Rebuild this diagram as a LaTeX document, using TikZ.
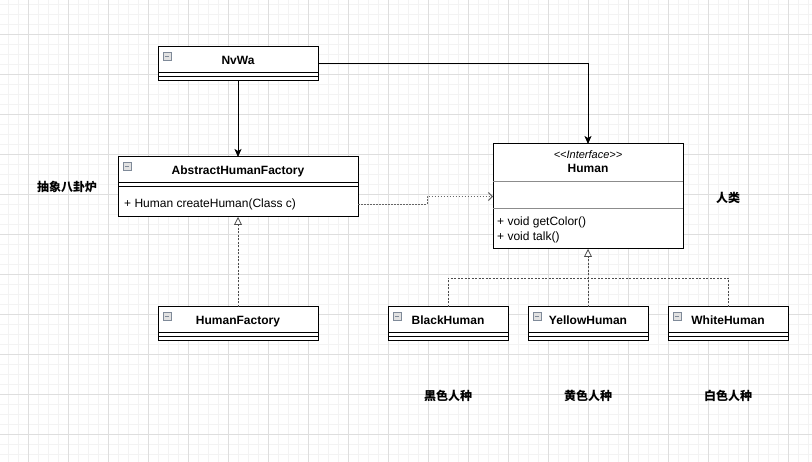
\documentclass[tikz,border=0pt]{standalone}
\usepackage{fontspec}
\setmainfont{Liberation Sans}
\newfontfamily\cjk{Noto Sans CJK SC}
\usepackage{xcolor}
\usepackage{tikz}
\usetikzlibrary{arrows.meta,calc}

\definecolor{gridmajor}{HTML}{DEDEDE}
\definecolor{gridminor}{HTML}{F3F3F3}
\definecolor{iconfill}{HTML}{E2E2E2}
\definecolor{iconline}{HTML}{7F8A99}

\tikzset{
  classbox/.style={draw=black, line width=1pt, fill=white, inner sep=0pt, outer sep=0pt, anchor=north west},
  classname/.style={font=\fontsize{12}{14}\selectfont\bfseries, inner sep=0pt, anchor=base},
  member/.style={font=\fontsize{12}{14}\selectfont, anchor=west, inner sep=0pt},
  note/.style={font=\fontsize{12}{14}\selectfont\cjk\bfseries, inner sep=0pt},
  compartment/.style={line width=1pt},
  foldicon/.style={draw=iconline, fill=iconfill, line width=0.6pt},
  assoc/.style={line width=1pt, -{Stealth[length=8pt,width=7pt,inset=2pt]}},
  realize/.style={line width=0.8pt, draw=black!70, dash pattern=on 2pt off 1.5pt},
  depend/.style={line width=0.9pt, draw=black!60, dash pattern=on 1.5pt off 1.5pt,
    -{Straight Barb[length=4pt,width=8pt,line width=1pt]}}
}

% class box: name, left, top, width, height, title
\newcommand{\umlclass}[6]{%
  \node[classbox, minimum width=#4pt, minimum height=#5pt] (#1) at (#2,#3) {};
  \node[classname] (#1-name) at ($(#1.north)+(0,18)$) {#6};
  \draw[compartment] ($(#1.north west)+(0,26)$) -- ($(#1.north east)+(0,26)$);
  \draw[compartment] ($(#1.north west)+(0,30)$) -- ($(#1.north east)+(0,30)$);
  \draw[foldicon] ($(#1.north west)+(5,5)$) rectangle ++(8,8);
  \draw[iconline, line width=0.8pt] ($(#1.north west)+(6.8,9)$) -- ++(4.4,0);
}

\begin{document}
\begin{tikzpicture}[x=1pt, y=-1pt]
        \useasboundingbox (0,0) rectangle (812,462);

        % Grid
        \fill[white] (0,0) rectangle (812,462);
        \foreach \x in {8,18,...,808}
            \draw[gridminor, line width=0.5pt] (\x,0) -- (\x,462);
        \foreach \y in {4,14,...,454}
            \draw[gridminor, line width=0.5pt] (0,\y) -- (812,\y);
        \foreach \x in {28,68,...,788}
            \draw[gridmajor, line width=0.6pt] (\x,0) -- (\x,462);
        \foreach \y in {34,74,...,434}
            \draw[gridmajor, line width=0.6pt] (0,\y) -- (812,\y);

        % Client
        \umlclass{nvwa}{158}{47}{160}{34}{NvWa}

        % Factory classes
        \umlclass{abstractFactory}{118}{157}{240}{60}{AbstractHumanFactory}
        \node[member] (abstractFactory-op) at ($(abstractFactory.south west)+(6,-13)$) {+ Human createHuman(Class c)};
        \umlclass{humanFactory}{158}{307}{160}{34}{HumanFactory}

        % Interface
        \node[classbox, minimum width=190pt, minimum height=105pt] (human) at (493,144) {};
        \node[font=\fontsize{11}{13}\selectfont\itshape, inner sep=0pt, anchor=base] (human-stereo) at ($(human.north)+(0,15)$) {<{}<Interface>{}>};
        \node[classname] (human-name) at ($(human.north)+(0,29)$) {Human};
        \draw[compartment, black!45] ($(human.north west)+(0,38)$) -- ($(human.north east)+(0,38)$);
        \draw[compartment, black!45] ($(human.north west)+(0,65)$) -- ($(human.north east)+(0,65)$);
        \node[member] (human-op1) at ($(human.north west)+(4,78)$) {+ void getColor()};
        \node[member] (human-op2) at ($(human.north west)+(4,93)$) {+ void talk()};

        % Implementations
        \umlclass{blackHuman}{388}{307}{120}{34}{BlackHuman}
        \umlclass{yellowHuman}{528}{307}{120}{34}{YellowHuman}
        \umlclass{whiteHuman}{668}{307}{120}{34}{WhiteHuman}

        % Notes
        \node[note] (factoryNote) at (67,187) {抽象八卦炉};
        \node[note] (humanNote) at (728,198) {人类};
        \node[note] (blackNote) at (448,396) {黑色人种};
        \node[note] (yellowNote) at (588,396) {黄色人种};
        \node[note] (whiteNote) at (728,396) {白色人种};

        % Relations
        \draw[assoc] (nvwa.south) -- (abstractFactory.north);
        \draw[assoc] (nvwa.east) -| (human.north);
        \draw[realize, -{Triangle[open,length=8pt,width=8pt,fill=white]}] (humanFactory.north) -- (abstractFactory.south);
        \draw[depend] ($(abstractFactory.south east)+(0,-13)$) -- ++(69,0) |- (human.west);

        \coordinate (joint) at (588,278);
        \draw[realize] (blackHuman.north) |- (joint);
        \draw[realize] (whiteHuman.north) |- (joint);
        \draw[realize, -{Triangle[open,length=8pt,width=8pt,fill=white]}] (yellowHuman.north) -- (human.south);
\end{tikzpicture}
\end{document}
